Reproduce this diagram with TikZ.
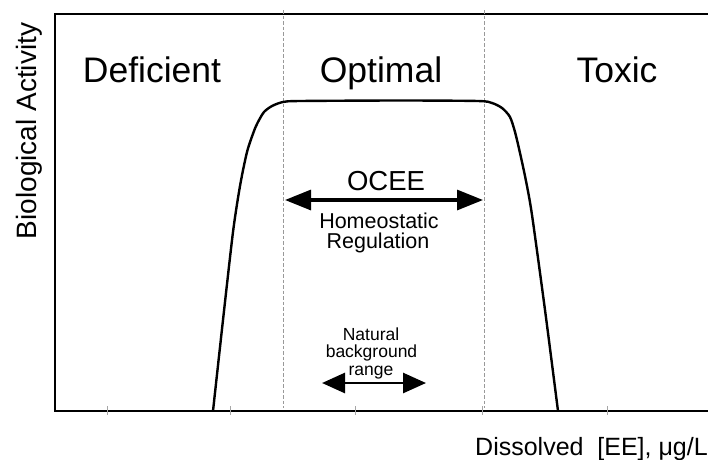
\documentclass[tikz,border=0pt]{standalone}
\usepackage{fontspec}
\setmainfont{Liberation Sans}
\usetikzlibrary{arrows.meta}
\begin{document}
\begin{tikzpicture}[x=1pt,y=-1pt,
  frame/.style={line width=2pt,black},
  tickmark/.style={line width=0.6pt,gray!70},
  zoneline/.style={line width=0.6pt,gray!80,dash pattern=on 3.5pt off 2pt},
  response/.style={line width=2.4pt,black,line join=round},
  bigarrow/.style={line width=3.2pt,{Triangle[length=26pt,width=20pt]}-{Triangle[length=26pt,width=20pt]}},
  smallarrow/.style={line width=2.8pt,{Triangle[length=23pt,width=20pt]}-{Triangle[length=23pt,width=20pt]}},
  zonelabel/.style={font=\fontsize{35.5}{40}\selectfont,anchor=base},
]
\useasboundingbox (0,0) rectangle (708,459);

% axes frame
\coordinate (tl) at (55,14);
\coordinate (bl) at (55,411);
\coordinate (tr) at (712,14);
\coordinate (br) at (712,411);
\draw[frame] (tr) -- (tl) -- (bl) -- (br);

% tick marks on the concentration axis
\foreach \tx in {107,230,355,482,607}
  \draw[tickmark] (\tx,406) -- (\tx,415);

% zone boundaries
\coordinate (d1t) at (283,10);
\coordinate (d1b) at (283,408);
\coordinate (d2t) at (484,10);
\coordinate (d2b) at (484,408);
\draw[zoneline] (d1t) -- (d1b);
\draw[zoneline] (d2t) -- (d2b);

% dose-response curve
\draw[response] plot[smooth,tension=0.45] coordinates {
  (213,411) (223,320) (233,232) (240,186) (247,152) (254,131) (258,122)
  (264,112) (272,106) (283,102) (300,101) (400,100.5) (478,101) (492,103)
  (502,108) (510,117) (515,132) (520,153) (526,181) (532,215) (545,310) (558,411)};

% zone names
\node[zonelabel] (def) at (152,82) {Deficient};
\node[zonelabel] (opt) at (381,82) {Optimal};
\node[zonelabel] (tox) at (617,82) {Toxic};

% optimal concentration range
\coordinate (oa) at (285,200);
\coordinate (ob) at (483,200);
\draw[bigarrow] (oa) -- (ob);
\node[font=\fontsize{27.5}{30}\selectfont,anchor=base] (ocee) at (386,190) {OCEE};
\node[font=\fontsize{21.5}{24}\selectfont,anchor=base] (homeo) at (379,228) {Homeostatic};
\node[font=\fontsize{21.5}{24}\selectfont,anchor=base] (reg) at (378,248) {Regulation};

% natural background range
\coordinate (na) at (322,383);
\coordinate (nb) at (426,383);
\draw[smallarrow] (na) -- (nb);
\node[font=\fontsize{17.5}{18}\selectfont,anchor=base] (nat) at (371,340) {Natural};
\node[font=\fontsize{17.5}{18}\selectfont,anchor=base] (bg) at (371.5,357) {background};
\node[font=\fontsize{17.5}{18}\selectfont,anchor=base,inner sep=1pt,fill=white] (rng) at (371,375) {range};

% axis titles
\node[font=\fontsize{28}{30}\selectfont,rotate=90,anchor=base] (ylab) at (36.5,131) {Biological Activity};
\node[font=\fontsize{25}{28}\selectfont,anchor=base west,inner sep=0pt] (xlab) at (475,455) {Dissolved\ \ [EE], μg/L};
\end{tikzpicture}
\end{document}
